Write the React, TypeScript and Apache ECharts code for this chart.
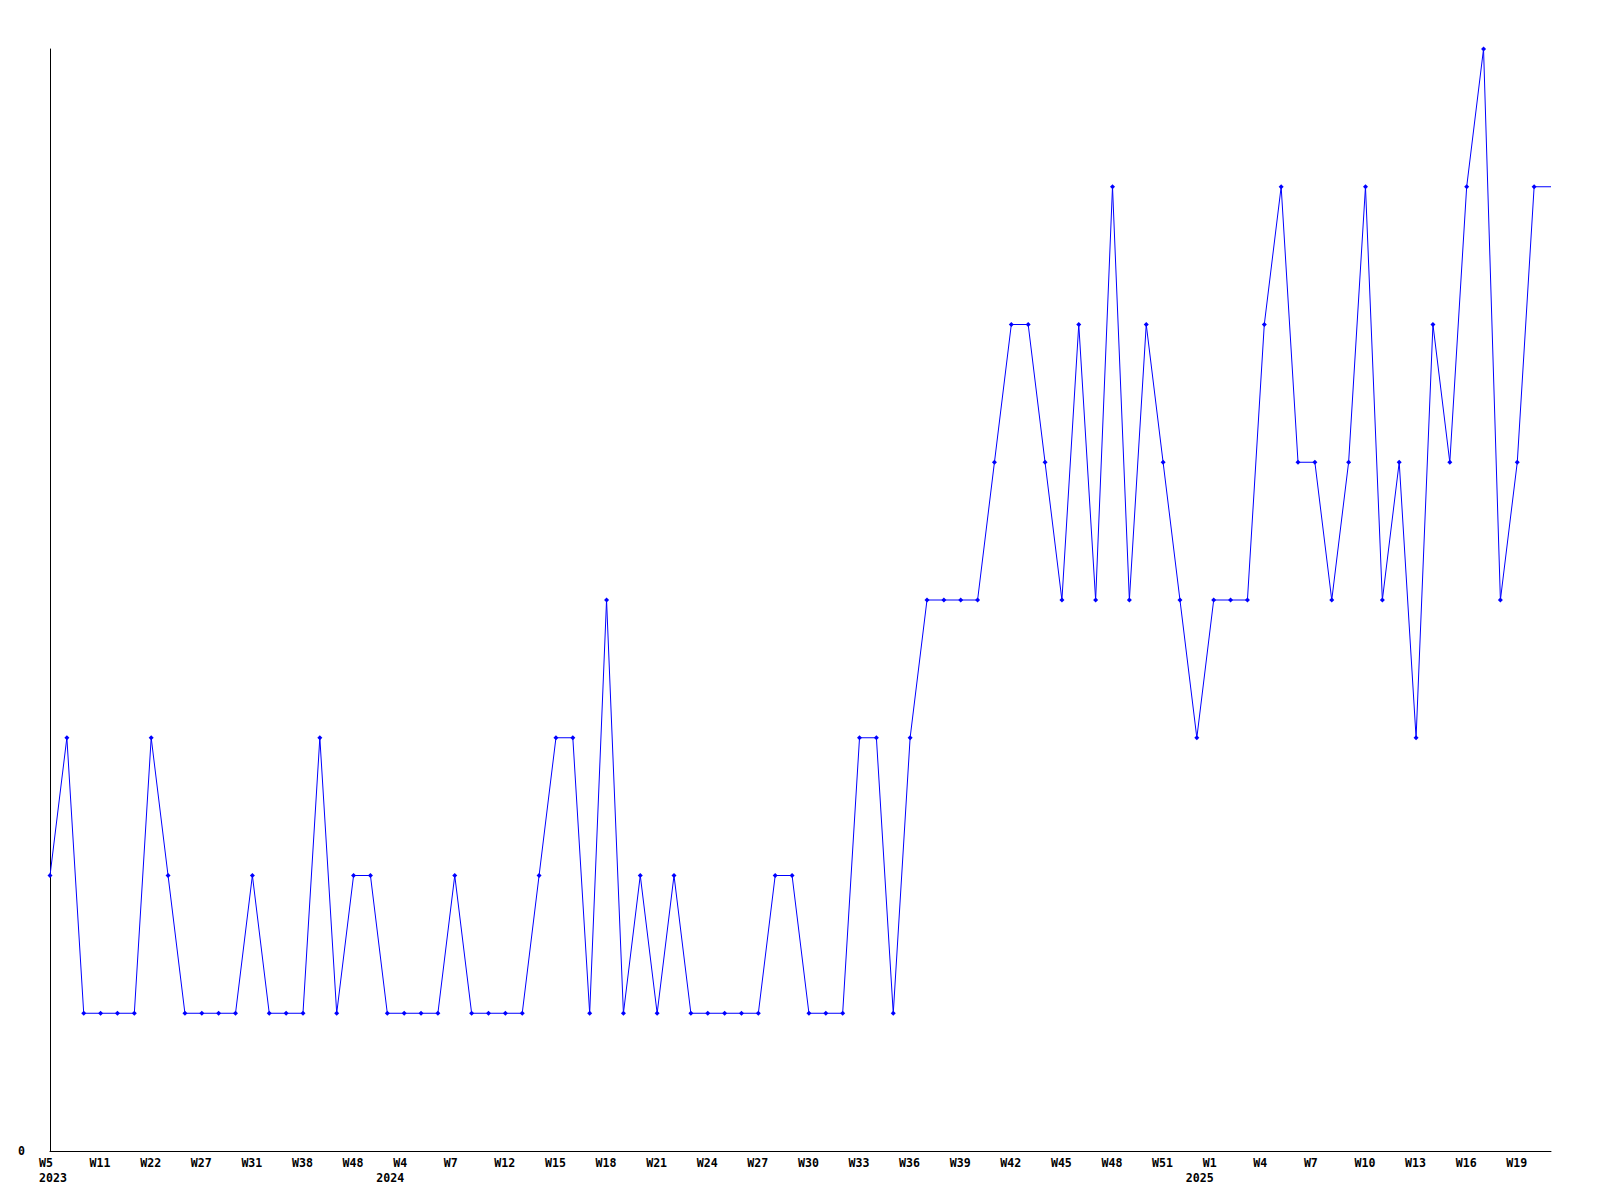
import React, { useEffect, useRef } from "react";
import * as echarts from "echarts";

// Week numbers per year (categories)
const weeks2023 = [5, 7, 9, 11, 14, 18, 22, 24, 25, 27, 28, 29, 31, 33, 35, 38, 41, 44, 48, 50];
const weeks2024 = [
  2, 4, 5, 6, 7, 9, 10, 12, 13, 14, 15, 16, 17, 18, 19, 20, 21, 22, 23, 24, 25, 26, 27, 28, 29, 30,
  31, 32, 33, 34, 35, 36, 37, 38, 39, 40, 41, 42, 43, 44, 45, 46, 47, 48, 49, 50, 51, 52,
];
const weeks2025 = [0, 1, 2, 3, 4, 5, 6, 7, 8, 9, 10, 11, 12, 13, 14, 15, 16, 17, 18, 19, 20, 21];

// Series values
const values = [
  2, 3, 1, 1, 1, 1, 3, 2, 1, 1,
  1, 1, 2, 1, 1, 1, 3, 1, 2, 2,
  1, 1, 1, 1, 2, 1, 1, 1, 1, 2,
  3, 3, 1, 4, 1, 2, 1, 2, 1, 1,
  1, 1, 1, 2, 2, 1, 1, 1, 3, 3,
  1, 3, 4, 4, 4, 4, 5, 6, 6, 5,
  4, 6, 4, 7, 4, 6, 5, 4, 3, 4,
  4, 4, 6, 7, 5, 5, 4, 5, 7, 4,
  5, 3, 6, 5, 7, 8, 4, 5, 7, 7,
];

const yTickLabels = ["0"];

const FONT = "'DejaVu Sans Mono', 'Liberation Mono', monospace";

export default function App() {
  const ref = useRef<HTMLDivElement>(null);

  useEffect(() => {
    document.body.style.margin = "0";
    const chart = echarts.init(ref.current!, null, { renderer: "svg" });

    const categories: string[] = [];
    const years: number[] = [];
    const weekNums: number[] = [];
    [
      [2023, weeks2023],
      [2024, weeks2024],
      [2025, weeks2025],
    ].forEach(([y, ws]: any) => {
      ws.forEach((w: number) => {
        categories.push(`${y}-W${w}`);
        years.push(y);
        weekNums.push(w);
      });
    });
    const firstOfYear = years.map((y, i) => i === 0 || years[i - 1] !== y);

    const labelStyle = {
      fontFamily: FONT,
      fontWeight: "bold" as const,
      fontSize: 11.6,
      color: "#000",
    };

    chart.setOption({
      animation: false,
      backgroundColor: "#ffffff",
      grid: { left: 50, right: 49, top: 49, bottom: 49, containLabel: false, outerBoundsMode: "none" },
      xAxis: [
        {
          type: "category",
          data: categories,
          boundaryGap: false,
          position: "bottom",
          axisLine: { show: true, lineStyle: { color: "#000", width: 1 } },
          axisTick: { show: false },
          splitLine: { show: false },
          axisLabel: {
            ...labelStyle,
            interval: (i: number) => i % 3 === 0,
            margin: 6,
            align: "center",
            formatter: (_v: string, i: number) => `{t|W${weekNums[i]}}`,
            rich: { t: { ...labelStyle, width: 22, align: "left" } },
          },
        },
        {
          type: "category",
          data: categories,
          boundaryGap: false,
          position: "bottom",
          axisLine: { show: false },
          axisTick: { show: false },
          splitLine: { show: false },
          axisLabel: {
            ...labelStyle,
            interval: (i: number) => firstOfYear[i],
            margin: 21,
            align: "center",
            formatter: (_v: string, i: number) => `{t|${years[i]}}`,
            rich: { t: { ...labelStyle, width: 22, align: "left" } },
          },
        },
      ],
      yAxis: {
        type: "value",
        min: 0,
        max: 8,
        interval: 8,
        axisLine: { show: true, lineStyle: { color: "#000", width: 1 } },
        axisTick: { show: false },
        splitLine: { show: false },
        axisLabel: {
          ...labelStyle,
          margin: 25,
          formatter: (v: number) => (v === 0 ? yTickLabels[0] : ""),
        },
      },
      series: [
        {
          type: "line",
          xAxisIndex: 0,
          data: values.map((v, i) => (i === values.length - 1 ? { value: v, symbol: "none" } : v)),
          symbol: "diamond",
          symbolSize: 5,
          showAllSymbol: true,
          itemStyle: { color: "#0000ff" },
          lineStyle: { color: "#0000ff", width: 1 },
          emphasis: { disabled: true },
        },
      ],
    });

    return () => chart.dispose();
  }, []);

  return <div ref={ref} style={{ width: 1600, height: 1200 }} />;
}
